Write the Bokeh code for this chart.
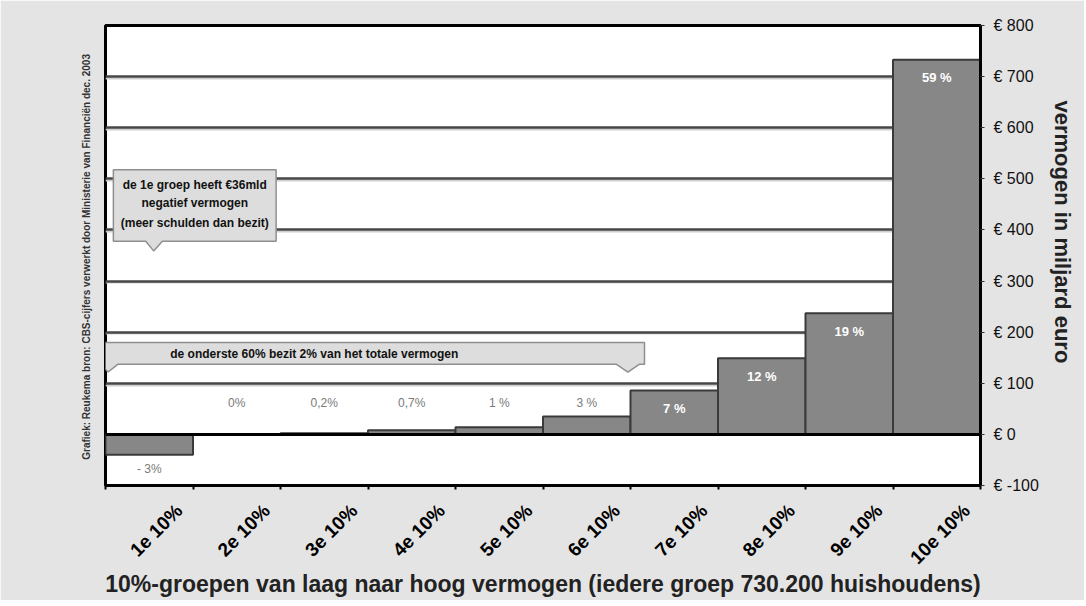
import math
from bokeh.plotting import figure
from bokeh.models import (FixedTicker, Range1d, ColumnDataSource, Span, Grid, Title)
from bokeh.embed import file_html
from bokeh.resources import INLINE
from bokeh.core.properties import value

# ---------------- data ----------------
categories = ["1e 10%", "2e 10%", "3e 10%", "4e 10%", "5e 10%",
              "6e 10%", "7e 10%", "8e 10%", "9e 10%", "10e 10%"]
wealth_bn = [-40, 0.6, 2.4, 8, 14, 35, 86, 149, 237, 733]
share_labels = ["- 3%", "0%", "0,2%", "0,7%", "1 %", "3 %", "7 %", "12 %", "19 %", "59 %"]
y_ticks = [-100, 0, 100, 200, 300, 400, 500, 600, 700, 800]
y_tick_labels = ["€ -100", "€ 0", "€ 100", "€ 200", "€ 300", "€ 400",
                 "€ 500", "€ 600", "€ 700", "€ 800"]
grid_ticks = [100, 200, 300, 400, 500, 600, 700]

x_title = "10%-groepen van laag naar hoog vermogen (iedere groep 730.200 huishoudens)"
y_title = "vermogen in miljard euro"
credit = "Grafiek: Reukema  bron: CBS-cijfers verwerkt door Ministerie van Financiën dec. 2003"
note1 = ["de 1e groep heeft €36mld", "negatief vermogen", "(meer schulden dan bezit)"]
note2 = "de onderste 60% bezit 2% van het totale vermogen"

BG = "#e4e4e4"
FONT = "Liberation Sans"

n = len(categories)
centers = [i + 0.5 for i in range(n)]

p = figure(width=1084, height=600, x_range=Range1d(0, n), y_range=Range1d(-100, 800),
           y_axis_location="right", output_backend="svg", toolbar_location=None,
           min_border_left=105, min_border_right=103, min_border_top=25,
           min_border_bottom=114)
p.border_fill_color = BG
p.background_fill_color = "white"
p.outline_line_color = "black"
p.outline_line_width = 3

# grids
p.xgrid.visible = False
p.ygrid.visible = False
shadow = Grid(dimension=1, ticker=FixedTicker(ticks=[t - 3.5 for t in grid_ticks]),
              grid_line_color="#cfcfcf", grid_line_width=2)
main_grid = Grid(dimension=1, ticker=FixedTicker(ticks=grid_ticks),
                 grid_line_color="#474747", grid_line_width=2.5)
p.add_layout(shadow)
p.add_layout(main_grid)

# bars
src = ColumnDataSource(dict(x=centers, top=wealth_bn))
p.vbar(x="x", top="top", bottom=0, width=1, source=src,
       fill_color="#878787", line_color="#3a3a3a", line_width=2)

p.add_layout(Span(location=0, dimension="width", line_color="black", line_width=3))

# bar value labels
out_x, out_y, out_t, out_off = [], [], [], []
in_x, in_y, in_t = [], [], []
for c, v, s in zip(centers, wealth_bn, share_labels):
    if v < 0:
        out_x.append(c); out_y.append(v); out_t.append(s); out_off.append(14)
    elif v < 60:
        out_x.append(c); out_y.append(0); out_t.append(s); out_off.append(-31)
    else:
        in_x.append(c); in_y.append(v); in_t.append(s)
p.text(x=out_x, y=out_y, text=out_t, y_offset=out_off,
       text_font=value(FONT), text_font_size="12px",
       text_color="#7a7a7a", text_align="center", text_baseline="middle")
p.text(x=in_x, y=in_y, text=in_t, y_offset=18,
       text_font=value(FONT), text_font_size="13px", text_font_style="bold",
       text_color="white", text_align="center", text_baseline="middle")

# callout 1
p.patch(x=[0.09, 1.95, 1.95, 0.65, 0.55, 0.46, 0.09],
        y=[518, 518, 378, 378, 359, 378, 378],
        fill_color="#dddddd", line_color="#8f8f8f", line_width=1.5)
p.text(x=[1.02] * 3, y=[488, 453, 414], text=note1,
       text_font=value(FONT), text_font_size="12px", text_font_style="bold",
       text_color="#111111", text_align="center", text_baseline="middle")

# callout 2
p.patch(x=[-0.14, 6.16, 6.16, 6.1, 5.97, 5.84, 0.14, 0.03, -0.06, -0.14],
        y=[180, 180, 137, 137, 122, 137, 137, 122, 137, 137],
        fill_color="#dddddd", line_color="#8f8f8f", line_width=1.5)
p.text(x=[0.74], y=[158], text=[note2],
       text_font=value(FONT), text_font_size="12px", text_font_style="bold",
       text_color="#111111", text_align="left", text_baseline="middle")

# x axis
label_pos = [i + 0.84 for i in range(n)]
xa = p.xaxis[0]
xa.ticker = FixedTicker(ticks=label_pos, minor_ticks=list(range(n + 1)))
xa.major_label_overrides = {pos: cat for pos, cat in zip(label_pos, categories)}
xa.major_label_orientation = math.pi / 4
xa.major_tick_line_color = None
xa.minor_tick_in = 0
xa.minor_tick_out = 4
xa.minor_tick_line_color = "black"
xa.minor_tick_line_width = 2
xa.axis_line_color = "black"
xa.axis_line_width = 3
xa.major_label_standoff = 16
xa.major_label_text_font = FONT
xa.major_label_text_font_style = "bold"
xa.major_label_text_font_size = "19px"
xa.major_label_text_color = "black"
xa.axis_label = x_title
xa.axis_label_text_font = FONT
xa.axis_label_text_font_style = "bold"
xa.axis_label_text_font_size = "23px"
xa.axis_label_text_color = "#222222"
xa.axis_label_standoff = -7

# y axis (right)
ya = p.yaxis[0]
ya.ticker = FixedTicker(ticks=y_ticks)
ya.major_label_overrides = {t: l for t, l in zip(y_ticks, y_tick_labels)}
ya.major_tick_in = 0
ya.major_tick_out = 4
ya.major_tick_line_color = "#333333"
ya.minor_tick_line_color = None
ya.axis_line_color = "black"
ya.axis_line_width = 3
ya.major_label_standoff = 9
ya.major_label_text_font = FONT
ya.major_label_text_font_size = "16px"
ya.major_label_text_color = "#111111"

p.add_layout(Title(text=y_title, align="left", offset=75, standoff=16,
                   text_font=FONT, text_font_style="bold", text_font_size="22px",
                   text_color="#222222"), "right")

p.add_layout(Title(text=credit, align="center", standoff=27,
                   text_font=FONT, text_font_size="10px", text_font_style="bold",
                   text_color="#333333"), "left")

open("out.html", "w").write(file_html(p, INLINE))
